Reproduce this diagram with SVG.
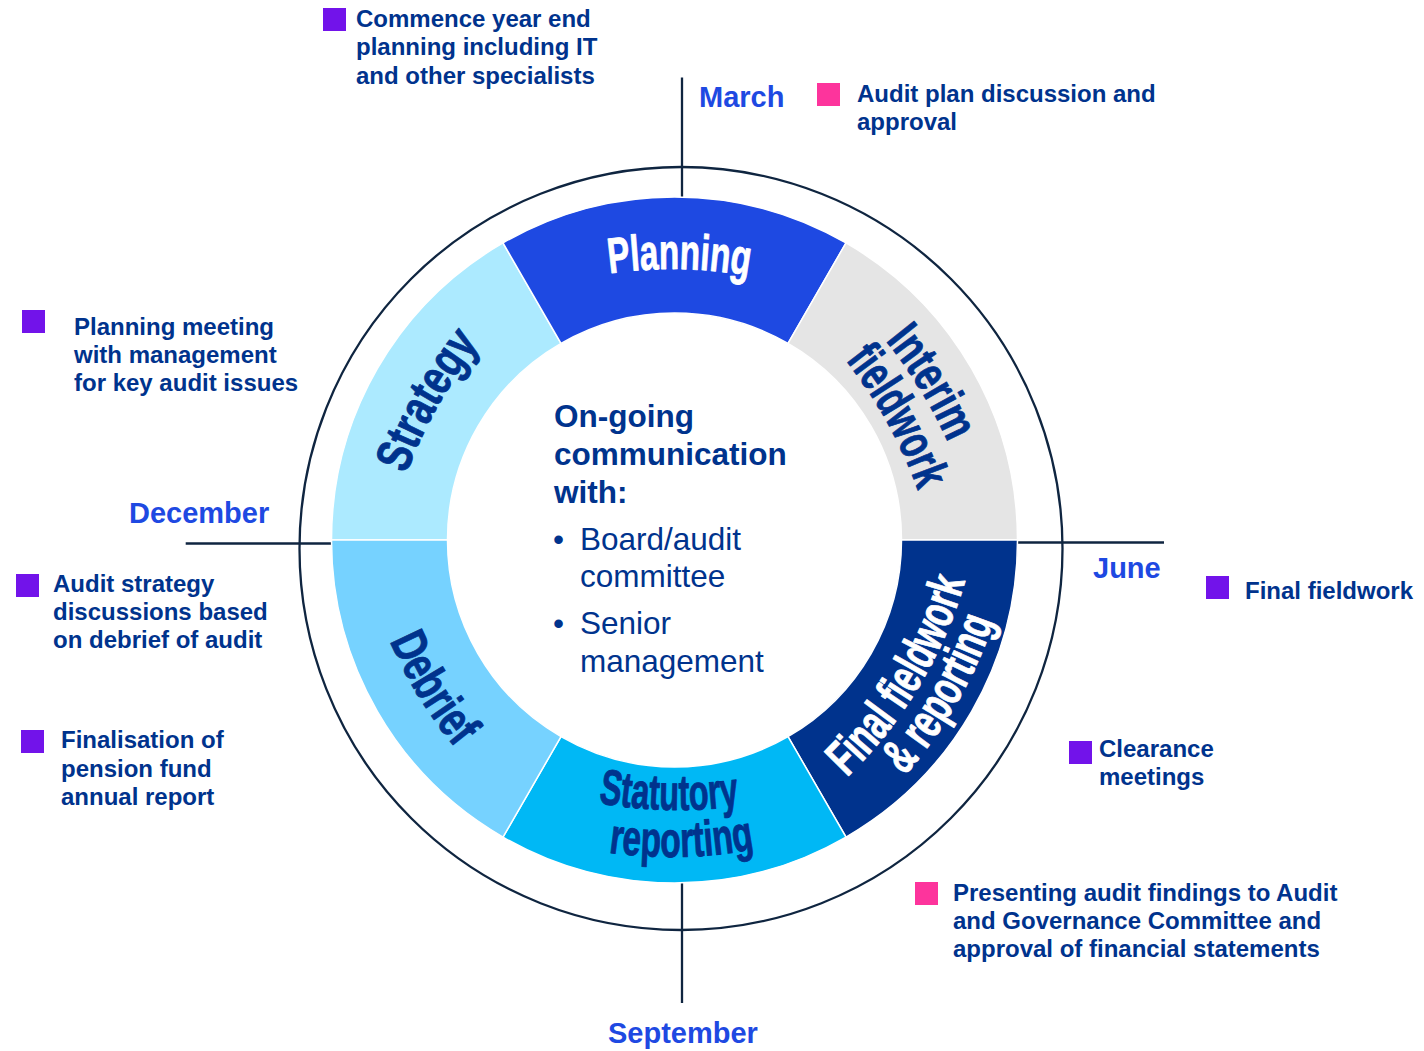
<svg xmlns="http://www.w3.org/2000/svg" width="1424" height="1051" viewBox="0 0 1424 1051">
  <style>
    .axis { fill: none; stroke: #0F2540; stroke-width: 2.3; }
    .seg { stroke: #ffffff; stroke-width: 1.5; }
    .lbl { font-family: "Liberation Sans", Arial, sans-serif; font-weight: bold; font-size: 50px; stroke-width: 0.9; stroke-linejoin: round; }
    .dark { fill: #00338D; stroke: #00338D; }
    .light { fill: #ffffff; stroke: #ffffff; }
    .month { font-family: "Liberation Sans", Arial, sans-serif; font-weight: bold; font-size: 29px; fill: #1E49E2; }
    .ann { font-family: "Liberation Sans", Arial, sans-serif; font-weight: bold; font-size: 24px; fill: #00338D; }
    .hub { font-family: "Liberation Sans", Arial, sans-serif; font-size: 31.5px; fill: #00338D; }
    .purple { fill: #7213EA; }
    .pink { fill: #FD349C; }
  </style>
  <defs>
    <!-- flat arcs for label baselines, in a frame centred on the ring -->
    <path id="arcTop271" d="M-200,-224.11 A450,450 0 0 1 200,-224.11"/>
    <path id="arcTop272" d="M-200,-225.11 A450,450 0 0 1 200,-225.11"/>
    <path id="arcTop288" d="M-200,-241.11 A450,450 0 0 1 200,-241.11"/>
    <path id="arcTop243" d="M-200,-196.11 A450,450 0 0 1 200,-196.11"/>
    <path id="arcBot270" d="M-200,223.11 A450,450 0 0 0 200,223.11"/>
    <path id="arcBot317" d="M-200,270.11 A450,450 0 0 0 200,270.11"/>
    <path id="arcBot285" d="M-200,238.11 A450,450 0 0 0 200,238.11"/>
    <path id="arcBot326" d="M-200,279.11 A450,450 0 0 0 200,279.11"/>
    <path id="arcBot300" d="M-200,253.11 A450,450 0 0 0 200,253.11"/>
  </defs>

  <rect width="1424" height="1051" fill="#ffffff"/>

  <!-- outer timeline circle and the month axes -->
  <g id="connectors">
    <circle class="axis" cx="681" cy="548.5" r="381.5"/>
    <line class="axis" x1="682" y1="77.5" x2="682" y2="198"/>
    <line class="axis" x1="682" y1="882" x2="682" y2="1003"/>
    <line class="axis" x1="185.7" y1="543.5" x2="332" y2="543.5"/>
    <line class="axis" x1="1017" y1="542.5" x2="1164" y2="542.5"/>
  </g>

  <!-- ring segments -->
  <g id="strategy">
    <path class="seg" fill="#ACEAFF" d="M331.5,540 A343,343 0 0 1 503,242.95 L561,343.41 A227,227 0 0 0 447.5,540 Z"/>
    <text class="lbl dark" transform="translate(674.5,540) rotate(-60.5)"><textPath href="#arcTop272" startOffset="50%" text-anchor="middle" textLength="150" lengthAdjust="spacingAndGlyphs">Strategy</textPath></text>
  </g>
  <g id="planning">
    <path class="seg" fill="#1E49E2" d="M503,242.95 A343,343 0 0 1 846,242.95 L788,343.41 A227,227 0 0 0 561,343.41 Z"/>
    <text class="lbl light" transform="translate(674.5,540) rotate(1)"><textPath href="#arcTop271" startOffset="50%" text-anchor="middle" textLength="140" lengthAdjust="spacingAndGlyphs">Planning</textPath></text>
  </g>
  <g id="interim-fieldwork">
    <path class="seg" fill="#E5E5E5" d="M846,242.95 A343,343 0 0 1 1017.5,540 L901.5,540 A227,227 0 0 0 788,343.41 Z"/>
    <text class="lbl dark" transform="translate(674.5,540) rotate(58.5)"><textPath href="#arcTop288" startOffset="50%" text-anchor="middle" textLength="120" lengthAdjust="spacingAndGlyphs">Interim</textPath></text>
    <text class="lbl dark" transform="translate(674.5,540) rotate(61)"><textPath href="#arcTop243" startOffset="50%" text-anchor="middle" textLength="150" lengthAdjust="spacingAndGlyphs">fieldwork</textPath></text>
  </g>
  <g id="final-fieldwork">
    <path class="seg" fill="#00338D" d="M1017.5,540 A343,343 0 0 1 846,837.05 L788,736.59 A227,227 0 0 0 901.5,540 Z"/>
    <text class="lbl light" transform="translate(674.5,540) rotate(-59)"><textPath href="#arcBot285" startOffset="50%" text-anchor="middle" textLength="232" lengthAdjust="spacingAndGlyphs">Final fieldwork</textPath></text>
    <text class="lbl light" transform="translate(674.5,540) rotate(-60)"><textPath href="#arcBot326" startOffset="50%" text-anchor="middle" textLength="180" lengthAdjust="spacingAndGlyphs">&amp; reporting</textPath></text>
  </g>
  <g id="statutory-reporting">
    <path class="seg" fill="#00B8F5" d="M846,837.05 A343,343 0 0 1 503,837.05 L561,736.59 A227,227 0 0 0 788,736.59 Z"/>
    <text class="lbl dark" transform="translate(674.5,540) rotate(1.2)"><textPath href="#arcBot270" startOffset="50%" text-anchor="middle" textLength="142" lengthAdjust="spacingAndGlyphs">Statutory</textPath></text>
    <text class="lbl dark" transform="translate(674.5,540) rotate(-1.3)"><textPath href="#arcBot317" startOffset="50%" text-anchor="middle" textLength="147" lengthAdjust="spacingAndGlyphs">reporting</textPath></text>
  </g>
  <g id="debrief">
    <path class="seg" fill="#76D2FF" d="M503,837.05 A343,343 0 0 1 331.5,540 L447.5,540 A227,227 0 0 0 561,736.59 Z"/>
    <text class="lbl dark" transform="translate(674.5,540) rotate(58.5)"><textPath href="#arcBot300" startOffset="50%" text-anchor="middle" textLength="126" lengthAdjust="spacingAndGlyphs">Debrief</textPath></text>
  </g>

  <!-- centre: ongoing communication -->
  <g id="hub">
    <text class="hub" font-weight="bold" x="554" y="427">On-going</text>
    <text class="hub" font-weight="bold" x="554" y="465">communication</text>
    <text class="hub" font-weight="bold" x="554" y="503">with:</text>
    <text class="hub" x="553" y="550">•</text>
    <text class="hub" x="580" y="550">Board/audit</text>
    <text class="hub" x="580" y="587.3">committee</text>
    <text class="hub" x="553" y="634">•</text>
    <text class="hub" x="580" y="634">Senior</text>
    <text class="hub" x="580" y="671.7">management</text>
  </g>

  <!-- month markers -->
  <g id="months">
    <text class="month" x="699" y="107">March</text>
    <text class="month" x="1093" y="578.3">June</text>
    <text class="month" x="608" y="1043.3">September</text>
    <text class="month" x="129" y="522.7">December</text>
  </g>

  <!-- milestone notes -->
  <g id="note-commence">
    <rect class="purple" x="323" y="8" width="23" height="23"/>
    <text class="ann" x="356" y="26.5">Commence year end</text>
    <text class="ann" x="356" y="55">planning including IT</text>
    <text class="ann" x="356" y="83.5">and other specialists</text>
  </g>
  <g id="note-audit-plan">
    <rect class="pink" x="817" y="83" width="23" height="23"/>
    <text class="ann" x="857" y="101.7">Audit plan discussion and</text>
    <text class="ann" x="857" y="130">approval</text>
  </g>
  <g id="note-planning-meeting">
    <rect class="purple" x="22" y="310" width="23" height="23"/>
    <text class="ann" x="74" y="335">Planning meeting</text>
    <text class="ann" x="74" y="363.3">with management</text>
    <text class="ann" x="74" y="391">for key audit issues</text>
  </g>
  <g id="note-audit-strategy">
    <rect class="purple" x="16" y="574" width="23" height="23"/>
    <text class="ann" x="53" y="591.7">Audit strategy</text>
    <text class="ann" x="53" y="620">discussions based</text>
    <text class="ann" x="53" y="648.3">on debrief of audit</text>
  </g>
  <g id="note-pension-report">
    <rect class="purple" x="21" y="730" width="23" height="23"/>
    <text class="ann" x="61" y="748.3">Finalisation of</text>
    <text class="ann" x="61" y="776.7">pension fund</text>
    <text class="ann" x="61" y="805">annual report</text>
  </g>
  <g id="note-final-fieldwork">
    <rect class="purple" x="1206" y="576" width="23" height="23"/>
    <text class="ann" x="1245" y="599">Final fieldwork</text>
  </g>
  <g id="note-clearance">
    <rect class="purple" x="1069" y="741" width="23" height="23"/>
    <text class="ann" x="1099" y="756.7">Clearance</text>
    <text class="ann" x="1099" y="785">meetings</text>
  </g>
  <g id="note-findings">
    <rect class="pink" x="915" y="882" width="23" height="23"/>
    <text class="ann" x="953" y="900.7">Presenting audit findings to Audit</text>
    <text class="ann" x="953" y="929.3">and Governance Committee and</text>
    <text class="ann" x="953" y="957.3">approval of financial statements</text>
  </g>
</svg>
